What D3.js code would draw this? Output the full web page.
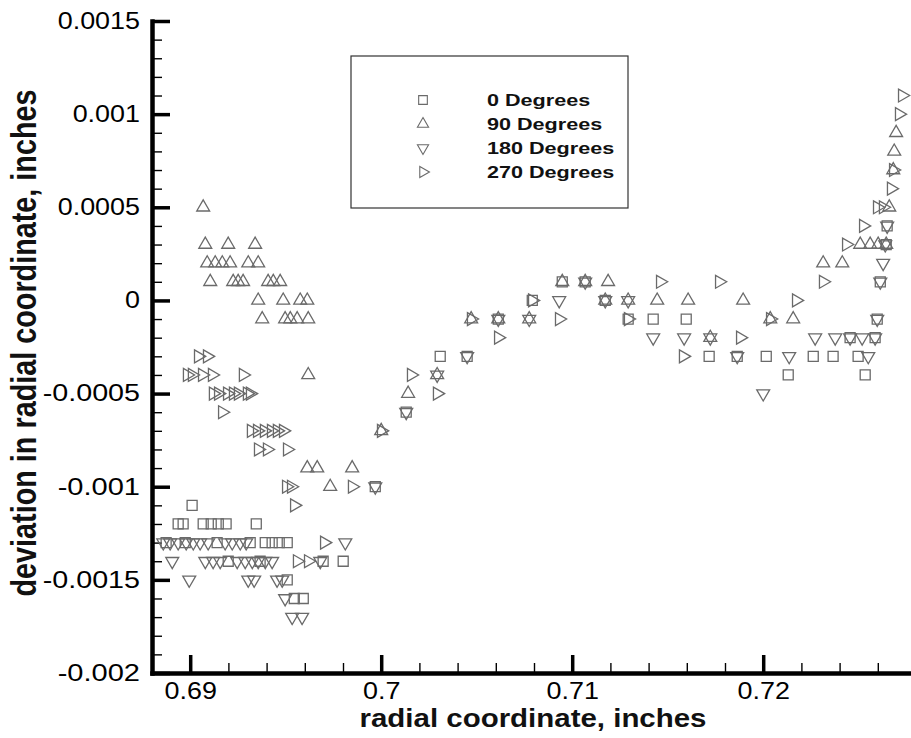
<!DOCTYPE html>
<html>
<head>
<meta charset="utf-8">
<script src="https://cdn.jsdelivr.net/npm/d3@7"></script>
<style>
  body { margin: 0; background: #fff; }
  svg { display: block; font-family: Arial, "Liberation Sans", sans-serif; }
  .axis .domain { stroke: #000; stroke-width: 4.5; }
  .axis .tick line { stroke: #000; stroke-width: 3.5; }
  .minor .tick line { stroke: #000; stroke-width: 1.4; }
  .axis .tick text { fill: #000; font-size: 23px; }
</style>
</head>
<body>
<div id="chart"></div>
<script>
// points: [radial coordinate, deviation]
const deg0 = [
  [0.6901, -0.0011],
  [0.68937, -0.0012], [0.68963, -0.0012], [0.69068, -0.0012], [0.6911, -0.0012], [0.69147, -0.0012], [0.69188, -0.0012], [0.69346, -0.0012],
  [0.68874, -0.0013], [0.68974, -0.0013], [0.69141, -0.0013], [0.69314, -0.0013], [0.69393, -0.0013], [0.69429, -0.0013], [0.69466, -0.0013], [0.69508, -0.0013],
  [0.69199, -0.0014], [0.69366, -0.0014], [0.69696, -0.0014], [0.69801, -0.0014],
  [0.69508, -0.0015], [0.69545, -0.0016], [0.69592, -0.0016],
  [0.69969, -0.001], [0.70131, -0.0006], [0.70309, -0.0003], [0.7045, -0.0003], [0.70613, -0.0001],
  [0.70791, 0], [0.70948, 0.0001], [0.71068, 0.0001], [0.71173, 0], [0.71293, -0.0001], [0.71424, -0.0001],
  [0.71597, -0.0001], [0.71717, -0.0003], [0.71864, -0.0003], [0.72016, -0.0003], [0.72131, -0.0004],
  [0.72262, -0.0003], [0.72366, -0.0003], [0.72455, -0.0002], [0.72497, -0.0003], [0.72534, -0.0004],
  [0.72586, -0.0002], [0.72597, -0.0001], [0.72613, 0.0001], [0.72644, 0.0003], [0.72649, 0.0004]
];
const deg90 = [
  [0.69068, 0.0005],
  [0.69079, 0.0003], [0.69199, 0.0003], [0.6934, 0.0003],
  [0.69089, 0.0002], [0.69131, 0.0002], [0.69168, 0.0002], [0.69209, 0.0002], [0.69304, 0.0002], [0.69356, 0.0002],
  [0.69105, 0.0001], [0.69225, 0.0001], [0.69251, 0.0001], [0.69277, 0.0001], [0.69408, 0.0001], [0.69435, 0.0001], [0.69471, 0.0001],
  [0.69356, 0], [0.69487, 0], [0.69576, 0], [0.69613, 0],
  [0.69377, -0.0001], [0.69497, -0.0001], [0.69524, -0.0001], [0.6956, -0.0001], [0.69618, -0.0001],
  [0.69618, -0.0004], [0.69613, -0.0009], [0.69665, -0.0009], [0.69848, -0.0009], [0.69733, -0.001],
  [0.7, -0.0007], [0.70141, -0.0005], [0.70293, -0.0004], [0.70471, -0.0001], [0.70613, -0.0001],
  [0.70775, -0.0001], [0.70948, 0.0001], [0.71068, 0.0001], [0.71188, 0.0001], [0.71173, 0], [0.71293, 0],
  [0.71445, 0], [0.71607, 0], [0.71723, -0.0002], [0.71895, 0], [0.72037, -0.0001], [0.72157, -0.0001],
  [0.72314, 0.0002], [0.72414, 0.0002], [0.72508, 0.0003], [0.7256, 0.0003], [0.72602, 0.0003], [0.72644, 0.0003],
  [0.7266, 0.0005], [0.72681, 0.0007], [0.72686, 0.0008], [0.72696, 0.0009]
];
const deg180 = [
  [0.68859, -0.0013], [0.68895, -0.0013], [0.68937, -0.0013], [0.68979, -0.0013], [0.69016, -0.0013], [0.69052, -0.0013],
  [0.69094, -0.0013], [0.69183, -0.0013], [0.6922, -0.0013], [0.69262, -0.0013], [0.69293, -0.0013],
  [0.68906, -0.0014], [0.69079, -0.0014], [0.6912, -0.0014], [0.69157, -0.0014], [0.69246, -0.0014], [0.69288, -0.0014],
  [0.69325, -0.0014], [0.69356, -0.0014], [0.69393, -0.0014], [0.69429, -0.0014], [0.69681, -0.0014],
  [0.68995, -0.0015], [0.69304, -0.0015], [0.69335, -0.0015], [0.69455, -0.0015], [0.69482, -0.0015],
  [0.69497, -0.0016], [0.69534, -0.0017], [0.69586, -0.0017], [0.69812, -0.0013], [0.69969, -0.001],
  [0.70131, -0.0006], [0.70293, -0.0004], [0.7045, -0.0003], [0.70613, -0.0001], [0.70775, -0.0001],
  [0.70932, 0], [0.71068, 0.0001], [0.71173, 0], [0.71293, 0], [0.71424, -0.0002], [0.71586, -0.0002],
  [0.71723, -0.0002], [0.71864, -0.0003], [0.72, -0.0005], [0.72136, -0.0003], [0.72272, -0.0002],
  [0.72377, -0.0002], [0.72455, -0.0002], [0.72518, -0.0002], [0.7255, -0.0003], [0.72586, -0.0002],
  [0.72597, -0.0001], [0.72613, 0.0001], [0.72628, 0.0002], [0.72639, 0.0003], [0.72649, 0.0004]
];
const deg270 = [
  [0.69042, -0.0003], [0.69089, -0.0003],
  [0.68984, -0.0004], [0.6901, -0.0004], [0.69063, -0.0004], [0.69115, -0.0004], [0.69277, -0.0004],
  [0.6912, -0.0005], [0.69147, -0.0005], [0.69194, -0.0005], [0.69225, -0.0005], [0.69251, -0.0005], [0.69298, -0.0005], [0.69314, -0.0005],
  [0.69168, -0.0006],
  [0.69319, -0.0007], [0.69351, -0.0007], [0.69387, -0.0007], [0.69424, -0.0007], [0.69455, -0.0007], [0.69487, -0.0007],
  [0.69356, -0.0008], [0.69403, -0.0008], [0.69508, -0.0008],
  [0.69503, -0.001], [0.69529, -0.001], [0.69848, -0.001], [0.69545, -0.0011], [0.69702, -0.0013],
  [0.6956, -0.0014], [0.69618, -0.0014],
  [0.7, -0.0007], [0.70157, -0.0004], [0.70293, -0.0005], [0.70471, -0.0001], [0.70613, -0.0002],
  [0.70791, 0], [0.70932, -0.0001], [0.71293, -0.0001], [0.71461, 0.0001], [0.71581, -0.0003],
  [0.7177, 0.0001], [0.7188, -0.0002], [0.72037, -0.0001], [0.72173, 0], [0.72314, 0.0001],
  [0.72435, 0.0003], [0.72524, 0.0004], [0.72597, 0.0005], [0.72628, 0.0005], [0.7267, 0.0006],
  [0.72681, 0.0007], [0.72712, 0.001], [0.72728, 0.0011]
];
const seriesNames = ['0 Degrees', '90 Degrees', '180 Degrees', '270 Degrees'];
const xTicks = [0.69, 0.7, 0.71, 0.72];
const xTickLabels = ['0.69', '0.7', '0.71', '0.72'];
const yTicks = [0.0015, 0.001, 0.0005, 0, -0.0005, -0.001, -0.0015, -0.002];
const yTickLabels = ['0.0015', '0.001', '0.0005', '0', '-0.0005', '-0.001', '-0.0015', '-0.002'];

const W = 911, H = 738;
const STRETCH = 1.17;   // the original export is a bit wide
const MARK = '#6a6a6a';

const svg = d3.select('#chart').append('svg')
  .attr('width', W).attr('height', H);

const x = d3.scaleLinear().domain([0.688, 0.728]).range([152, 916]);
const y = d3.scaleLinear().domain([-0.002, 0.0015]).range([673, 21]);

// widen text to the wide look of the original; a leading minus gets a little extra room
function stretch(sel, k) {
  sel.each(function () {
    const t = d3.select(this);
    const w = this.getComputedTextLength();
    const extra = t.text().startsWith('-') ? 6 : 0;
    t.attr('textLength', w * k + extra).attr('lengthAdjust', 'spacingAndGlyphs');
  });
}

// minor ticks first, majors on top
const xMinor = d3.range(0, 21).map(i => +(0.688 + i * 0.002).toFixed(3));
const yMinor = d3.range(-20, 16).map(i => i / 10000);

svg.append('g').attr('class', 'minor')
  .attr('transform', 'translate(0,673)')
  .call(d3.axisBottom(x).tickValues(xMinor).tickSize(-10).tickFormat(''))
  .call(g => g.select('.domain').remove());
svg.append('g').attr('class', 'minor')
  .attr('transform', 'translate(152,0)')
  .call(d3.axisLeft(y).tickValues(yMinor).tickSize(-10).tickFormat(''))
  .call(g => g.select('.domain').remove());

const xAxis = svg.append('g').attr('class', 'axis')
  .attr('transform', 'translate(0,673)')
  .call(d3.axisBottom(x).tickValues(xTicks).tickFormat((d, i) => xTickLabels[i])
    .tickSize(-18).tickSizeOuter(0).tickPadding(10));
const yAxis = svg.append('g').attr('class', 'axis')
  .attr('transform', 'translate(152,0)')
  .call(d3.axisLeft(y).tickValues(yTicks).tickFormat((d, i) => yTickLabels[i])
    .tickSize(-18).tickSizeOuter(0).tickPadding(12));
xAxis.select('.domain').attr('stroke-linecap', 'square');
yAxis.select('.domain').attr('stroke-linecap', 'square');
stretch(xAxis.selectAll('.tick text'), STRETCH);
stretch(yAxis.selectAll('.tick text'), STRETCH);

// markers
const shapes = [
  { data: deg0,   type: d3.symbolSquare,   size: 100, rot: 0 },
  { data: deg90,  type: d3.symbolTriangle, size: 72,  rot: 0 },
  { data: deg180, type: d3.symbolTriangle, size: 72,  rot: 180 },
  { data: deg270, type: d3.symbolTriangle, size: 72,  rot: 90 }
];

const pts = svg.append('g');
shapes.forEach(s => {
  pts.append('g').selectAll('path')
    .data(s.data)
    .join('path')
      .attr('d', d3.symbol(s.type, s.size))
      .attr('transform', d => `translate(${x(d[0])},${y(d[1])}) rotate(${s.rot})`)
      .attr('fill', 'none')
      .attr('stroke', MARK)
      .attr('stroke-width', 1.3);
});

// legend
const leg = svg.append('g');
leg.append('rect')
  .attr('x', 351).attr('y', 56).attr('width', 277).attr('height', 152)
  .attr('fill', 'none').attr('stroke', '#333').attr('stroke-width', 1.2);
const rowY = d3.scalePoint().domain(seriesNames).range([100, 172]);
seriesNames.forEach((name, i) => {
  const s = shapes[i];
  leg.append('path')
    .attr('d', d3.symbol(s.type, s.size * 0.75))
    .attr('transform', `translate(423,${rowY(name)}) rotate(${s.rot})`)
    .attr('fill', 'none').attr('stroke', MARK).attr('stroke-width', 1.1);
  leg.append('text')
    .attr('x', 487).attr('y', rowY(name) + 6)
    .attr('font-size', 17).attr('font-weight', 'bold').attr('fill', '#111')
    .text(name);
});
stretch(leg.selectAll('text'), 1.27);

// axis titles
svg.append('text')
  .attr('x', 533).attr('y', 727)
  .attr('text-anchor', 'middle')
  .attr('font-size', 25).attr('font-weight', 'bold').attr('fill', '#111')
  .attr('textLength', 347).attr('lengthAdjust', 'spacingAndGlyphs')
  .text('radial coordinate, inches');

svg.append('text')
  .attr('transform', 'translate(36,343) scale(1.2,1) rotate(-90)')
  .attr('text-anchor', 'middle')
  .attr('font-size', 29).attr('font-weight', 'bold').attr('fill', '#111')
  .attr('textLength', 507).attr('lengthAdjust', 'spacingAndGlyphs')
  .text('deviation in radial coordinate, inches');
</script>
</body>
</html>
